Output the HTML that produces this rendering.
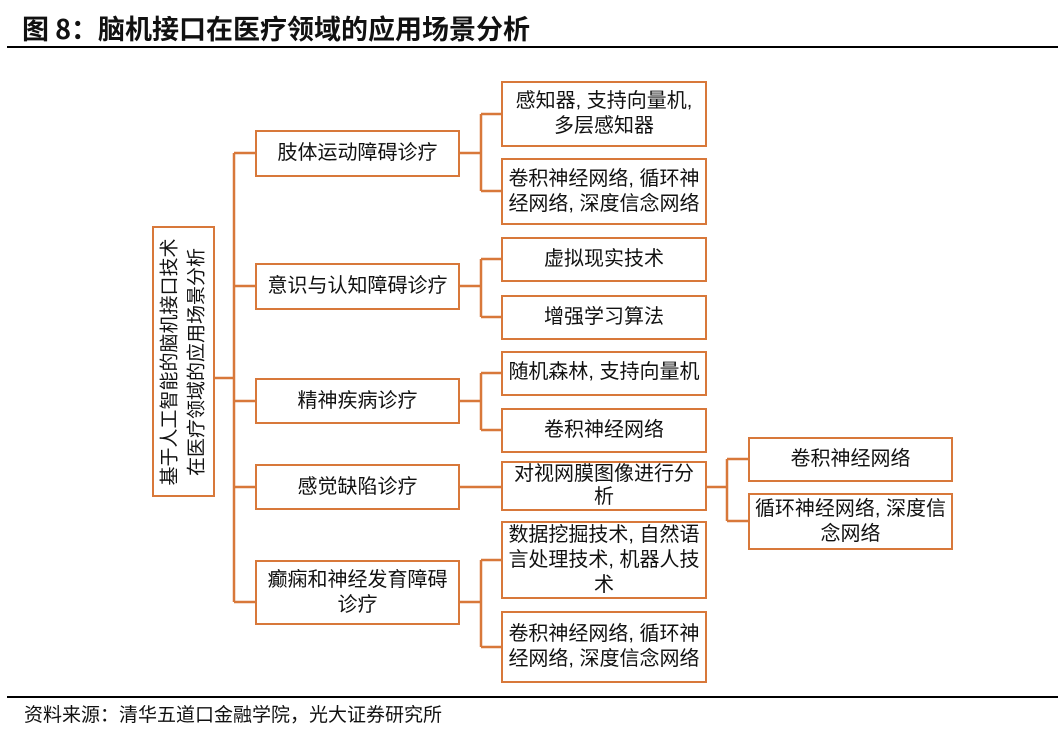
<!DOCTYPE html>
<html><head><meta charset="utf-8"><style>
body{margin:0;width:1058px;height:732px;background:#fff;position:relative;overflow:hidden;font-family:"Liberation Sans","Noto Sans CJK SC",sans-serif;color:#111}
.b{position:absolute;border:2.5px solid #D8783A;box-sizing:border-box;display:flex;align-items:center;justify-content:center;text-align:center;font-size:20px;line-height:25px;background:#fff}
.t{position:absolute;left:22px;top:8px;font-size:27px;font-weight:bold;font-family:"Noto Sans CJK SC",sans-serif}
.hl{position:absolute;left:7px;right:0;height:2px;background:#000}
</style></head><body>
<div class="t">图 8：脑机接口在医疗领域的应用场景分析</div>
<div class="hl" style="top:46px"></div>
<div class="hl" style="top:696px"></div>
<div style="position:absolute;left:24px;top:700px;font-size:19px">资料来源：清华五道口金融学院，光大证券研究所</div>
<svg width="1058" height="732" style="position:absolute;left:0;top:0" fill="none" stroke="#D8783A" stroke-width="2.5">
<path d="M215 378H234M234 153V602M234 153H255M234 286H255M234 401H255M234 487H255M234 602H255"/>
<path d="M460 153H481M481 114V191M481 114H501M481 191H501"/>
<path d="M460 286H481M481 259V317M481 259H501M481 317H501"/>
<path d="M460 401H481M481 373V430M481 373H501M481 430H501"/>
<path d="M460 487H501"/>
<path d="M460 602H481M481 560V647M481 560H501M481 647H501"/>
<path d="M707 487H727M727 459V521M727 459H748M727 521H748"/>
</svg>
<div class="b" style="left:152px;top:226px;width:63px;height:271px"><div style="transform:rotate(-90deg);white-space:nowrap;line-height:27px;font-size:19px">基于人工智能的脑机接口技术<br>在医疗领域的应用场景分析</div></div>
<div class="b" style="left:255px;top:130px;width:205px;height:47px">肢体运动障碍诊疗</div>
<div class="b" style="left:255px;top:263px;width:205px;height:47px">意识与认知障碍诊疗</div>
<div class="b" style="left:255px;top:378px;width:205px;height:46px">精神疾病诊疗</div>
<div class="b" style="left:255px;top:464px;width:205px;height:46px">感觉缺陷诊疗</div>
<div class="b" style="left:255px;top:560px;width:205px;height:65px">癫痫和神经发育障碍<br>诊疗</div>
<div class="b" style="left:501px;top:81px;width:206px;height:66px;align-items:flex-start;padding-top:6px">感知器, 支持向量机,<br>多层感知器</div>
<div class="b" style="left:501px;top:158px;width:206px;height:67px">卷积神经网络, 循环神<br>经网络, 深度信念网络</div>
<div class="b" style="left:501px;top:237px;width:206px;height:45px">虚拟现实技术</div>
<div class="b" style="left:501px;top:295px;width:206px;height:45px">增强学习算法</div>
<div class="b" style="left:501px;top:351px;width:206px;height:45px;align-items:flex-start;padding-top:7px">随机森林, 支持向量机</div>
<div class="b" style="left:501px;top:408px;width:206px;height:45px">卷积神经网络</div>
<div class="b" style="left:501px;top:461px;width:206px;height:50px;line-height:23px">对视网膜图像进行分<br>析</div>
<div class="b" style="left:501px;top:521px;width:206px;height:78px">数据挖掘技术, 自然语<br>言处理技术, 机器人技<br>术</div>
<div class="b" style="left:501px;top:611px;width:206px;height:72px">卷积神经网络, 循环神<br>经网络, 深度信念网络</div>
<div class="b" style="left:748px;top:437px;width:205px;height:45px">卷积神经网络</div>
<div class="b" style="left:748px;top:493px;width:205px;height:57px">循环神经网络, 深度信<br>念网络</div>
</body></html>
